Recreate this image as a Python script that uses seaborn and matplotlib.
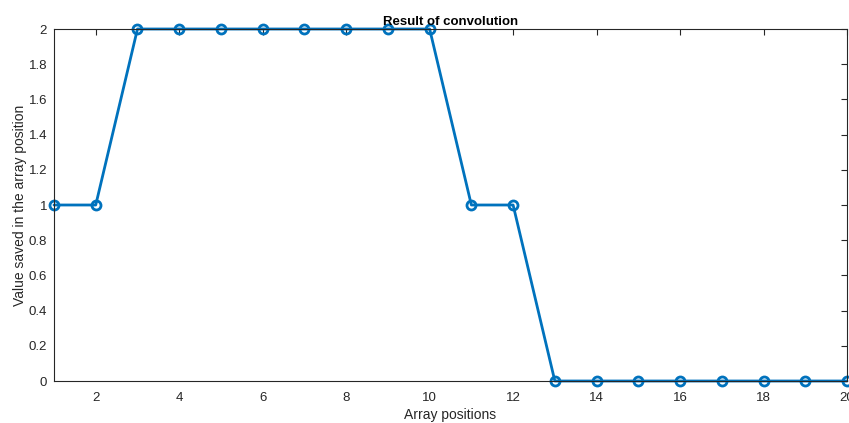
import matplotlib
matplotlib.use("Agg")
import matplotlib.pyplot as plt
import seaborn as sns
import pandas as pd
import numpy as np

positions = list(range(1, 21))
values = [1, 1, 2, 2, 2, 2, 2, 2, 2, 2, 1, 1, 0, 0, 0, 0, 0, 0, 0, 0]
x_ticks = [2, 4, 6, 8, 10, 12, 14, 16, 18, 20]
y_ticks = [0, 0.2, 0.4, 0.6, 0.8, 1, 1.2, 1.4, 1.6, 1.8, 2]

sns.set_style("white")
plt.rcParams['font.family'] = ['Liberation Sans', 'DejaVu Sans']

df = pd.DataFrame({"pos": positions, "val": values})

fig = plt.figure(figsize=(8.49, 4.23), dpi=100)
ax = fig.add_axes([54/849, 1 - 381/423, (847-54)/849, (381-29)/423])

sns.lineplot(data=df, x="pos", y="val", ax=ax, color="#0072BD", linewidth=2,
             marker="o", markersize=6.5, markerfacecolor="none",
             markeredgecolor="#0072BD", markeredgewidth=2, clip_on=False)

ax.set_xlim(1, 20)
ax.set_ylim(0, 2)
ax.set_xticks(x_ticks)
ax.set_xticklabels([str(t) for t in x_ticks])
ax.set_yticks(y_ticks)
ax.set_yticklabels(["0", "0.2", "0.4", "0.6", "0.8", "1", "1.2", "1.4", "1.6", "1.8", "2"])

ax.tick_params(direction="in", length=4, width=0.8, top=True, right=True,
               labelsize=9.5, colors="#262626", pad=5)
ax.tick_params(axis="x", pad=8)
for s in ax.spines.values():
    s.set_color("#262626")
    s.set_linewidth(0.8)
    s.set_visible(True)

ax.set_xlabel("Array positions", fontsize=10, color="#262626", labelpad=3)
ax.set_ylabel("Value saved in the array position", fontsize=10, color="#262626", labelpad=1)
ax.set_title("Result of convolution", fontsize=9.5, fontweight="bold", color="black", pad=3)

fig.savefig("out.png", dpi=100)
